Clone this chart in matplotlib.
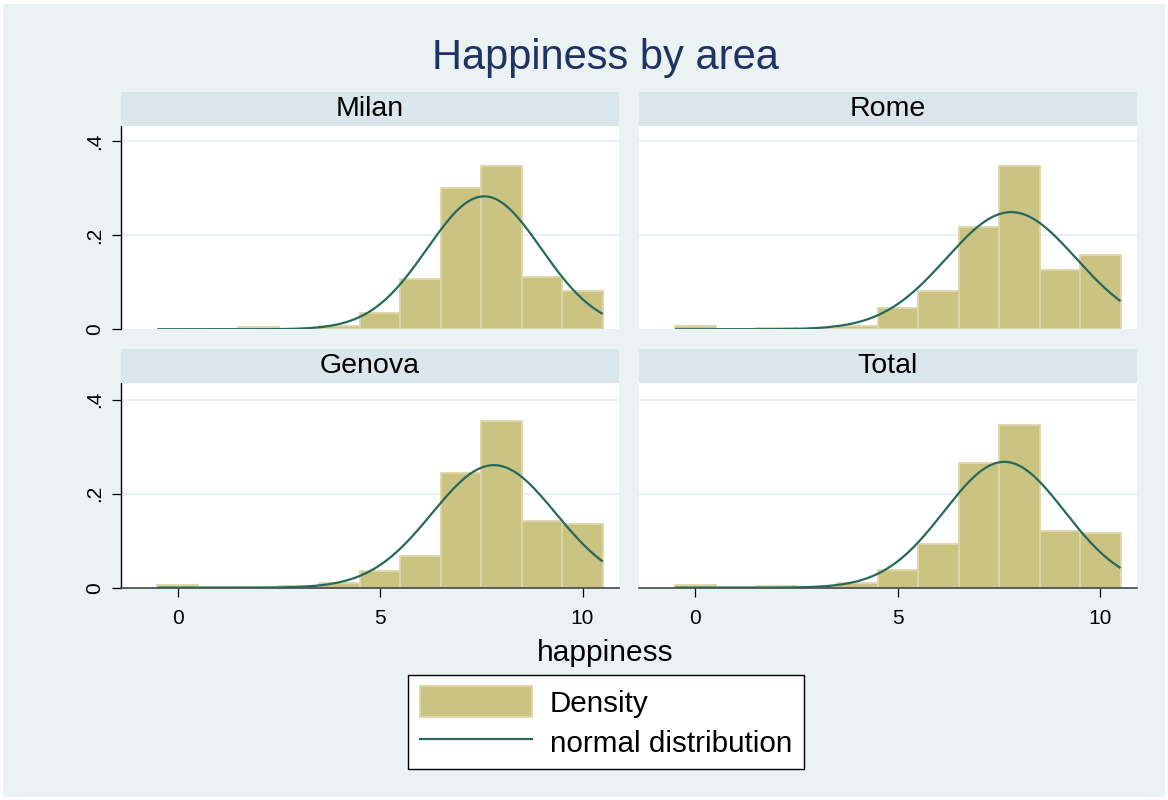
import numpy as np
import matplotlib
matplotlib.use("Agg")
import matplotlib.pyplot as plt
from matplotlib.patches import Rectangle, Patch
from matplotlib.lines import Line2D

# histogram bins (width 1, centred on integers) and densities
bin_centers = np.arange(0, 11)
areas = ["Milan", "Rome", "Genova", "Total"]
milan = [0.000, 0.000, 0.004, 0.000, 0.007, 0.034, 0.107, 0.300, 0.347, 0.111, 0.082]
rome = [0.008, 0.000, 0.002, 0.000, 0.008, 0.045, 0.082, 0.218, 0.348, 0.126, 0.159]
genova = [0.006, 0.002, 0.002, 0.003, 0.011, 0.035, 0.067, 0.244, 0.354, 0.141, 0.135]
total = [0.006, 0.002, 0.003, 0.002, 0.010, 0.038, 0.092, 0.265, 0.347, 0.121, 0.116]
densities = [milan, rome, genova, total]

# mean and sd of the overlaid normal curves
norm_mean = [7.57, 7.80, 7.81, 7.63]
norm_sd = [1.41, 1.60, 1.53, 1.49]

xticks = [0, 5, 10]
yticks = [0, 0.2, 0.4]
ytick_labels = ["0", ".2", ".4"]

BG = "#EAF2F3"
STRIP = "#D9E6EB"
BAR = "#CBC382"
BAR_EDGE = "#DDD7A8"
LINE = "#26695C"
TITLE = "#1F3262"

plt.rcParams["font.family"] = ["Liberation Sans", "DejaVu Sans"]

W, H = 1168, 800
fig = plt.figure(figsize=(W / 100, H / 100), dpi=100, facecolor="white")
fig.patches.append(Rectangle((3 / W, 3 / H), 1 - 6 / W, 1 - 7 / H,
                             transform=fig.transFigure, facecolor=BG,
                             edgecolor="none", zorder=-10))

# panel positions in pixels: left edge per column, (top, bottom) per row
lefts = [121, 638.7]
rows = [(126, 329.3), (382.7, 587.7)]
strip_h = 33.7

def normal_pdf(x, m, s):
    return np.exp(-0.5 * ((x - m) / s) ** 2) / (s * np.sqrt(2 * np.pi))

for i, name in enumerate(areas):
    r, c = divmod(i, 2)
    x0 = lefts[c]
    x1 = x0 + 498
    top, bot = rows[r]
    ax = fig.add_axes([x0 / W, 1 - bot / H, (x1 - x0) / W, (bot - top) / H])
    ax.set_facecolor("white")
    ax.set_xlim(-1.4, 10.9)
    ax.set_ylim(0, (bot - top) / 470.0)

    for gy in [0.2, 0.4]:
        ax.axhline(gy, color=BG, lw=1.6, zorder=1)

    ax.bar(bin_centers, densities[i], width=1.0, color=BAR,
           edgecolor=BAR_EDGE, linewidth=1.3, zorder=2)
    xs = np.linspace(-0.5, 10.5, 400)
    ax.plot(xs, normal_pdf(xs, norm_mean[i], norm_sd[i]), color=LINE,
            lw=1.6, zorder=3, solid_capstyle="butt")

    for sp in ax.spines.values():
        sp.set_visible(False)
    if c == 0:
        ax.spines["left"].set_visible(True)
        ax.spines["left"].set_color("black")
        ax.spines["left"].set_linewidth(1.0)
        ax.set_yticks(yticks)
        ax.set_yticklabels(ytick_labels, rotation=90, va="center")
        ax.tick_params(axis="y", length=6.5, width=0.9, pad=6, labelsize=15)
    else:
        ax.set_yticks([])
    if r == 1:
        ax.spines["bottom"].set_visible(True)
        ax.spines["bottom"].set_color("#444444")
        ax.spines["bottom"].set_linewidth(1.2)
        ax.set_xticks(xticks)
        ax.set_xticklabels([str(t) for t in xticks])
        ax.tick_params(axis="x", length=6.5, width=0.9, pad=8.5, labelsize=15)
    else:
        ax.set_xticks([])

    # strip header
    sy = top - strip_h
    fig.patches.append(Rectangle((x0 / W, 1 - top / H), (x1 - x0) / W, strip_h / H,
                                 transform=fig.transFigure, facecolor=STRIP,
                                 edgecolor="none"))
    fig.text((x0 + x1) / 2 / W, 1 - (sy + strip_h / 2) / H, name,
             ha="center", va="center", fontsize=20.5)

fig.text(605 / W, 1 - 58 / H, "Happiness by area", ha="center", va="center",
         fontsize=30, color=TITLE)
fig.text(605 / W, 1 - 653 / H, "happiness", ha="center", va="center", fontsize=21.5)

handles = [Patch(facecolor=BAR, edgecolor=BAR_EDGE, linewidth=1.3),
           Line2D([0], [0], color=LINE, lw=1.6)]
leg = fig.legend(handles, ["Density", "normal distribution"],
                 loc="center", bbox_to_anchor=(606 / W, 1 - 722 / H),
                 fontsize=21.3, frameon=True, fancybox=False, edgecolor="black",
                 framealpha=1.0,
                 handlelength=3.8, handleheight=1.2, handletextpad=0.6,
                 borderpad=0.4, labelspacing=0.3, borderaxespad=0)
leg.get_frame().set_linewidth(1.0)
leg.get_frame().set_facecolor("white")

fig.savefig("out.png", dpi=100, facecolor=fig.get_facecolor())
